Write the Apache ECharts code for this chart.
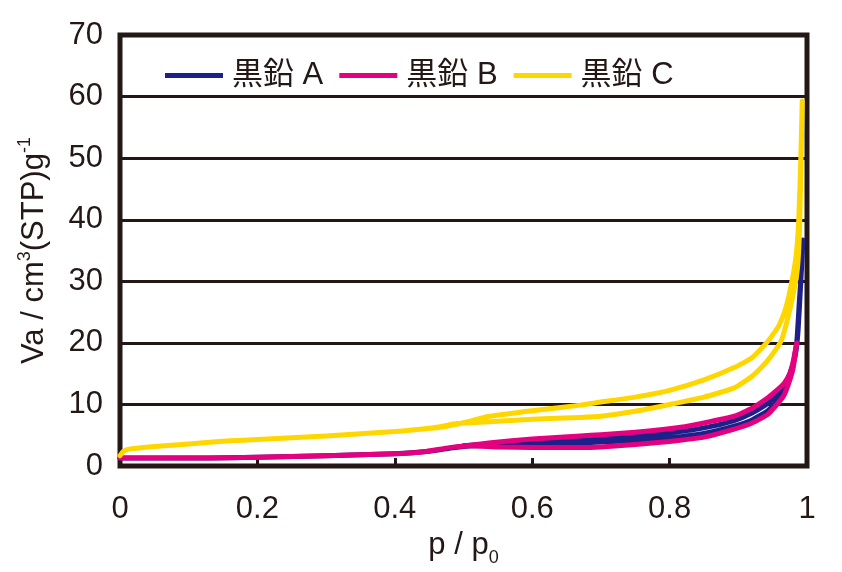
<!DOCTYPE html>
<html>
<head>
<meta charset="utf-8">
<script src="https://cdn.jsdelivr.net/npm/echarts@6/dist/echarts.min.js"></script>
<style>html,body{margin:0;padding:0;background:#fff}#c{width:842px;height:572px}</style>
</head>
<body>
<div id="c"></div>
<script>
var seriesNames = ['黒鉛 A', '黒鉛 B', '黒鉛 C'];
var xTicks = [0, 0.2, 0.4, 0.6, 0.8, 1];
var yTicks = [0, 10, 20, 30, 40, 50, 60, 70];

// 黒鉛 A: adsorption then desorption branch
var aAdsP = [0, 0.05, 0.1, 0.16, 0.2, 0.3, 0.4, 0.45, 0.48, 0.5, 0.54, 0.6, 0.67, 0.7, 0.75, 0.8, 0.85, 0.894, 0.92, 0.943, 0.96, 0.97, 0.978, 0.985, 0.989, 0.992, 0.994];
var aAdsV = [1.3, 1.3, 1.3, 1.35, 1.45, 1.7, 2.0, 2.4, 2.9, 3.2, 3.4, 3.5, 3.8, 3.9, 4.2, 4.6, 5.3, 6.5, 7.5, 9.0, 11, 13, 15.5, 20, 27, 32, 36.7];
var aDesP = [0.994, 0.991, 0.987, 0.983, 0.975, 0.965, 0.943, 0.92, 0.894, 0.85, 0.8, 0.75, 0.7, 0.67, 0.6, 0.54, 0.5];
var aDesV = [36.7, 30, 22, 18, 15, 12.8, 10.2, 8.6, 7.4, 6.2, 5.4, 4.9, 4.4, 4.2, 3.9, 3.6, 3.3];

// 黒鉛 B
var bAdsP = [0, 0.05, 0.1, 0.16, 0.2, 0.3, 0.4, 0.44, 0.48, 0.51, 0.55, 0.6, 0.67, 0.7, 0.75, 0.8, 0.85, 0.894, 0.92, 0.943, 0.96, 0.967, 0.975, 0.98, 0.985];
var bAdsV = [1.3, 1.3, 1.3, 1.35, 1.45, 1.7, 2.0, 2.3, 3.0, 3.3, 3.1, 3.0, 3.0, 3.1, 3.5, 4.0, 4.7, 6.0, 7.0, 8.4, 10.5, 11.6, 14, 16, 20];
var bDesP = [0.985, 0.98, 0.975, 0.967, 0.955, 0.943, 0.92, 0.894, 0.85, 0.816, 0.75, 0.7, 0.67, 0.6, 0.54, 0.51, 0.48];
var bDesV = [20, 17, 15, 13.5, 12.2, 11.1, 9.4, 8.1, 7.0, 6.3, 5.5, 5.1, 4.9, 4.4, 3.8, 3.4, 3.0];

// 黒鉛 C
var cAdsP = [0, 0.005, 0.015, 0.05, 0.1, 0.16, 0.2, 0.3, 0.4, 0.437, 0.466, 0.49, 0.524, 0.55, 0.6, 0.67, 0.7, 0.75, 0.8, 0.85, 0.894, 0.92, 0.94, 0.955, 0.963, 0.972, 0.98, 0.986, 0.989, 0.991, 0.993];
var cAdsV = [1.7, 2.4, 2.8, 3.2, 3.6, 4.1, 4.3, 4.9, 5.6, 6.0, 6.4, 6.9, 7.1, 7.3, 7.6, 7.9, 8.1, 8.9, 10.0, 11.2, 12.7, 14.6, 16.8, 19, 20.5, 24, 28, 32, 38, 48, 59.3];
var cDesP = [0.993, 0.991, 0.988, 0.984, 0.978, 0.97, 0.96, 0.95, 0.941, 0.92, 0.894, 0.85, 0.8, 0.75, 0.7, 0.67, 0.6, 0.58, 0.534, 0.51, 0.49, 0.466, 0.44];
var cDesV = [59.3, 50, 40, 34, 30, 26, 23, 21.3, 20, 17.6, 16, 14, 12.3, 11.2, 10.4, 9.9, 9.0, 8.7, 8.0, 7.3, 6.8, 6.3, 6.0];

var colors = ['#1d2088', '#e4007f', '#ffd700'];

function loop(ap, av, dp, dv) {
  var out = [];
  for (var i = 0; i < ap.length; i++) out.push([ap[i], av[i]]);
  for (var j = 1; j < dp.length; j++) out.push([dp[j], dv[j]]);
  return out;
}
var loops = [
  loop(aAdsP, aAdsV, aDesP, aDesV),
  loop(bAdsP, bAdsV, bDesP, bDesV),
  loop(cAdsP, cAdsV, cDesP, cDesV)
];

var font = '"Liberation Sans Narrow", "Liberation Sans", Arial, sans-serif';
var ink = '#231815';

var chart = echarts.init(document.getElementById('c'), null, {renderer: 'canvas'});
chart.setOption({
  animation: false,
  backgroundColor: '#fff',
  grid: {left: 120, right: 35, top: 35, bottom: 99, show: true, borderColor: ink, borderWidth: 5, backgroundColor: 'transparent'},
  legend: {
    data: seriesNames,
    left: 160, top: 55,
    icon: 'rect', itemWidth: 58, itemHeight: 5, itemGap: 16,
    textStyle: {fontSize: 31, color: ink, fontFamily: '"Liberation Sans", "Noto Sans CJK JP", sans-serif', padding: [0, 0, 0, 4]}
  },
  xAxis: {
    type: 'value', min: xTicks[0], max: xTicks[xTicks.length - 1], interval: 0.2,
    axisLine: {show: false},
    axisTick: {show: true, inside: true, length: 8, lineStyle: {color: ink, width: 3}},
    splitLine: {show: false},
    axisLabel: {fontSize: 31, color: ink, fontFamily: font, margin: 28,
      formatter: function (v) { return xTicks.indexOf(Math.round(v * 10) / 10) >= 0 ? String(Math.round(v * 10) / 10) : ''; }},
    name: '{a|p / p}{s|0}',
    nameLocation: 'middle', nameGap: 60,
    nameTextStyle: {rich: {
      a: {fontSize: 31, color: ink, fontFamily: font, lineHeight: 34, verticalAlign: 'bottom'},
      s: {fontSize: 18, color: ink, fontFamily: font, lineHeight: 34, verticalAlign: 'bottom', padding: [0, 0, -6, 0]}
    }}
  },
  yAxis: {
    type: 'value', min: yTicks[0], max: yTicks[yTicks.length - 1], interval: 10,
    axisLine: {show: false},
    axisTick: {show: false},
    splitLine: {show: true, lineStyle: {color: ink, width: 3}},
    axisLabel: {fontSize: 31, color: ink, fontFamily: font, margin: 17},
    name: '{a|Va / cm}{s|3}{a|(STP)g}{s|-1}',
    nameLocation: 'middle', nameGap: 70,
    nameTextStyle: {rich: {
      a: {fontSize: 31, color: ink, fontFamily: font, lineHeight: 34, verticalAlign: 'bottom'},
      s: {fontSize: 18, color: ink, fontFamily: font, lineHeight: 34, verticalAlign: 'top'}
    }}
  },
  series: seriesNames.map(function (n, i) {
    return {
      name: n, type: 'line', data: loops[i], showSymbol: false, symbol: 'none', smooth: 0.15,
      lineStyle: {color: colors[i], width: 5, join: 'round', cap: 'round'},
      itemStyle: {color: colors[i]},
      z: 2 + i, clip: true
    };
  })
});
</script>
</body>
</html>
